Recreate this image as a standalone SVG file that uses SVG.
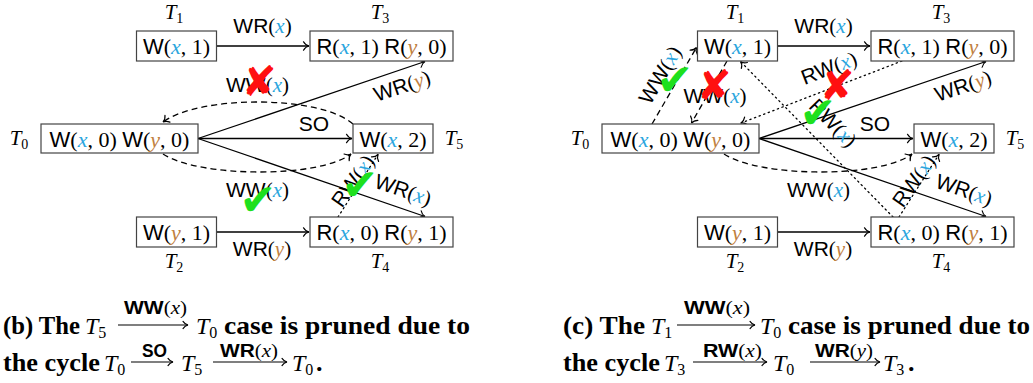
<svg xmlns="http://www.w3.org/2000/svg" width="1033" height="383" viewBox="0 0 1033 383">
<defs>
<style>
text{font-family:"Liberation Serif",serif;fill:#000}
.sf{font-family:"Liberation Sans",sans-serif}
.mi{font-family:"Liberation Serif",serif;font-style:italic}
.vx{fill:#2ba6de}
.vy{fill:#bf8040}
.nt{font-size:22px;text-anchor:middle}
.el{font-size:21px;text-anchor:middle}
.tl{font-size:21px;text-anchor:middle}
.sub{font-size:14px;font-style:normal}
.box{fill:#fff;stroke:#444;stroke-width:1.2}
.e{fill:none;stroke:#000;stroke-width:1.3;marker-end:url(#ah)}
.d{stroke-dasharray:6,4}
.o{stroke-dasharray:1.3,3.6;stroke-linecap:round}
.ok{font-family:"DejaVu Sans",sans-serif;font-size:44px;fill:#1ee01e;text-anchor:middle}
.no{font-family:"DejaVu Sans",sans-serif;font-size:42px;fill:#ff1010;text-anchor:middle}
.cap{font-size:26px;font-weight:bold}
.cm{font-size:24px;font-style:italic}
.csub{font-size:16px;font-style:normal}
.al{font-size:18px}
.ca{fill:none;stroke:#000;stroke-width:1.1;marker-end:url(#sh)}
</style>
<marker id="ah" viewBox="-8 -6 10 12" refX="0" refY="0" markerWidth="10" markerHeight="12" markerUnits="userSpaceOnUse" orient="auto" overflow="visible">
<path d="M-5.5,-4.2 C-4,-1.6 -1.6,-0.3 0,0 C-1.6,0.3 -4,1.6 -5.5,4.2" fill="none" stroke="#000" stroke-width="1.2" stroke-dasharray="none" stroke-linecap="round"/>
</marker>
<marker id="sh" viewBox="-8 -6 10 12" refX="0" refY="0" markerWidth="10" markerHeight="12" markerUnits="userSpaceOnUse" orient="auto" overflow="visible">
<path d="M-5,-3.6 C-3.5,-1.3 -1.4,-0.3 0,0 C-1.4,0.3 -3.5,1.3 -5,3.6" fill="none" stroke="#000" stroke-width="1.1" stroke-linecap="round"/>
</marker>
</defs>

<!-- ===== Diagram (b) ===== -->
<g id="diagram-b">
<g id="b-connectors">
<line class="e" x1="216.5" y1="46" x2="309" y2="46"/>
<line class="e" x1="216.5" y1="232" x2="309" y2="232"/>
<line class="e" x1="198" y1="138.5" x2="425" y2="61.5"/>
<line class="e" x1="198" y1="138.5" x2="352" y2="138.5"/>
<line class="e" x1="198" y1="138.5" x2="425" y2="216.5"/>
<path class="e d" d="M353,124 C320,95 200,95 163,122"/>
<path class="e d" d="M163,154 C200,178 320,178 351,154"/>
<path class="e o" d="M338,217 L378,154.5"/>
<text class="el" x="262.5" y="33"><tspan class="sf">WR</tspan>(<tspan class="mi vx">x</tspan>)</text>
<text class="el" x="262" y="256"><tspan class="sf">WR</tspan>(<tspan class="mi vy">y</tspan>)</text>
<text class="el" x="314" y="131"><tspan class="sf">SO</tspan></text>
<text class="el" x="257.5" y="92"><tspan class="sf">WW</tspan>(<tspan class="mi vx">x</tspan>)</text>
<text class="el" x="257.5" y="197"><tspan class="sf">WW</tspan>(<tspan class="mi vx">x</tspan>)</text>
<text class="el" transform="translate(402,86) rotate(-18.8)" x="0" y="7"><tspan class="sf">WR</tspan>(<tspan class="mi vy">y</tspan>)</text>
<text class="el" transform="translate(403,190) rotate(19)" x="0" y="7"><tspan class="sf">WR</tspan>(<tspan class="mi vx">x</tspan>)</text>
<text class="el" transform="translate(353,181) rotate(-55)" x="0" y="7"><tspan class="sf">RW</tspan>(<tspan class="mi vx">x</tspan>)</text>
<text class="no" x="259" y="96">✘</text>
<text class="ok" x="258" y="215">✔</text>
<text class="ok" x="360" y="200">✔</text>
</g>
<g id="b-T1"><rect class="box" x="136.5" y="31" width="80" height="30"/><text class="nt" x="176.5" y="54"><tspan class="sf">W</tspan>(<tspan class="mi vx">x</tspan>, 1)</text><text class="tl mi" x="174" y="19">T<tspan class="sub" dy="4">1</tspan></text></g>
<g id="b-T3"><rect class="box" x="310" y="31" width="143" height="30"/><text class="nt" x="381.5" y="54"><tspan class="sf">R</tspan>(<tspan class="mi vx">x</tspan>, 1) <tspan class="sf">R</tspan>(<tspan class="mi vy">y</tspan>, 0)</text><text class="tl mi" x="380" y="19">T<tspan class="sub" dy="4">3</tspan></text></g>
<g id="b-T0"><rect class="box" x="41" y="124" width="157" height="29"/><text class="nt" x="119.5" y="147"><tspan class="sf">W</tspan>(<tspan class="mi vx">x</tspan>, 0) <tspan class="sf">W</tspan>(<tspan class="mi vy">y</tspan>, 0)</text><text class="tl mi" x="19" y="145">T<tspan class="sub" dy="4">0</tspan></text></g>
<g id="b-T5"><rect class="box" x="353" y="124" width="80" height="29"/><text class="nt" x="393" y="147"><tspan class="sf">W</tspan>(<tspan class="mi vx">x</tspan>, 2)</text><text class="tl mi" x="454" y="145">T<tspan class="sub" dy="4">5</tspan></text></g>
<g id="b-T2"><rect class="box" x="136.5" y="217" width="80" height="30"/><text class="nt" x="176.5" y="240"><tspan class="sf">W</tspan>(<tspan class="mi vy">y</tspan>, 1)</text><text class="tl mi" x="174" y="268">T<tspan class="sub" dy="4">2</tspan></text></g>
<g id="b-T4"><rect class="box" x="310" y="217" width="143" height="30"/><text class="nt" x="381.5" y="240"><tspan class="sf">R</tspan>(<tspan class="mi vx">x</tspan>, 0) <tspan class="sf">R</tspan>(<tspan class="mi vy">y</tspan>, 1)</text><text class="tl mi" x="380" y="268">T<tspan class="sub" dy="4">4</tspan></text></g>
</g>

<!-- ===== Diagram (c) ===== -->
<g id="diagram-c" transform="translate(561,0)">
<g id="c-connectors">
<line class="e" x1="216.5" y1="46" x2="309" y2="46"/>
<line class="e" x1="216.5" y1="232" x2="309" y2="232"/>
<line class="e" x1="198" y1="138.5" x2="425" y2="61.5"/>
<line class="e" x1="198" y1="138.5" x2="352" y2="138.5"/>
<line class="e" x1="198" y1="138.5" x2="425" y2="216.5"/>
<path class="e d" d="M163,154 C200,178 320,178 351,154"/>
<path class="e o" d="M338,217 L378,154.5"/>
<path class="e d" d="M91,124 L135.5,47.5"/>
<path class="e d" d="M166,61 L130.5,123"/>
<path class="e o" d="M341,61 L180,123"/>
<path class="e o" d="M332,217 L179.5,61.5"/>
<text class="el" x="262.5" y="33"><tspan class="sf">WR</tspan>(<tspan class="mi vx">x</tspan>)</text>
<text class="el" x="262" y="256"><tspan class="sf">WR</tspan>(<tspan class="mi vy">y</tspan>)</text>
<text class="el" x="314" y="131"><tspan class="sf">SO</tspan></text>
<text class="el" x="257.5" y="197"><tspan class="sf">WW</tspan>(<tspan class="mi vx">x</tspan>)</text>
<text class="el" x="154" y="103"><tspan class="sf">WW</tspan>(<tspan class="mi vx">x</tspan>)</text>
<text class="el" transform="translate(402,86) rotate(-18.8)" x="0" y="7"><tspan class="sf">WR</tspan>(<tspan class="mi vy">y</tspan>)</text>
<text class="el" transform="translate(403,190) rotate(19)" x="0" y="7"><tspan class="sf">WR</tspan>(<tspan class="mi vx">x</tspan>)</text>
<text class="el" transform="translate(353,181) rotate(-55)" x="0" y="7"><tspan class="sf">RW</tspan>(<tspan class="mi vx">x</tspan>)</text>
<text class="el" transform="translate(99,75) rotate(-59.7)" x="0" y="7"><tspan class="sf">WW</tspan>(<tspan class="mi vx">x</tspan>)</text>
<text class="el" transform="translate(268,68) rotate(-21)" x="0" y="7"><tspan class="sf">RW</tspan>(<tspan class="mi vx">x</tspan>)</text>
<text class="el" transform="translate(272,123) rotate(45.6)" x="0" y="7"><tspan class="sf">RW</tspan>(<tspan class="mi vx">x</tspan>)</text>
<text class="ok" x="114" y="95">✔</text>
<text class="no" x="153" y="100">✘</text>
<text class="no" x="276" y="100">✘</text>
<text class="ok" x="257" y="128">✔</text>
</g>
<g id="c-T1"><rect class="box" x="136.5" y="31" width="80" height="30"/><text class="nt" x="176.5" y="54"><tspan class="sf">W</tspan>(<tspan class="mi vx">x</tspan>, 1)</text><text class="tl mi" x="174" y="19">T<tspan class="sub" dy="4">1</tspan></text></g>
<g id="c-T3"><rect class="box" x="310" y="31" width="143" height="30"/><text class="nt" x="381.5" y="54"><tspan class="sf">R</tspan>(<tspan class="mi vx">x</tspan>, 1) <tspan class="sf">R</tspan>(<tspan class="mi vy">y</tspan>, 0)</text><text class="tl mi" x="380" y="19">T<tspan class="sub" dy="4">3</tspan></text></g>
<g id="c-T0"><rect class="box" x="41" y="124" width="157" height="29"/><text class="nt" x="119.5" y="147"><tspan class="sf">W</tspan>(<tspan class="mi vx">x</tspan>, 0) <tspan class="sf">W</tspan>(<tspan class="mi vy">y</tspan>, 0)</text><text class="tl mi" x="19" y="145">T<tspan class="sub" dy="4">0</tspan></text></g>
<g id="c-T5"><rect class="box" x="353" y="124" width="80" height="29"/><text class="nt" x="393" y="147"><tspan class="sf">W</tspan>(<tspan class="mi vx">x</tspan>, 2)</text><text class="tl mi" x="454" y="145">T<tspan class="sub" dy="4">5</tspan></text></g>
<g id="c-T2"><rect class="box" x="136.5" y="217" width="80" height="30"/><text class="nt" x="176.5" y="240"><tspan class="sf">W</tspan>(<tspan class="mi vy">y</tspan>, 1)</text><text class="tl mi" x="174" y="268">T<tspan class="sub" dy="4">2</tspan></text></g>
<g id="c-T4"><rect class="box" x="310" y="217" width="143" height="30"/><text class="nt" x="381.5" y="240"><tspan class="sf">R</tspan>(<tspan class="mi vx">x</tspan>, 0) <tspan class="sf">R</tspan>(<tspan class="mi vy">y</tspan>, 1)</text><text class="tl mi" x="380" y="268">T<tspan class="sub" dy="4">4</tspan></text></g>
</g>

<!-- ===== Captions ===== -->
<g id="caption-b">
<text class="cap" x="3" y="334" textLength="77" lengthAdjust="spacingAndGlyphs">(b) The</text>
<text class="cm" x="85" y="334">T<tspan class="csub" dy="4">5</tspan></text>
<line class="ca" x1="118" y1="325" x2="188" y2="325"/>
<text class="al" x="124" y="314" textLength="63" lengthAdjust="spacingAndGlyphs"><tspan class="sf" font-weight="bold">WW</tspan>(<tspan class="mi">x</tspan>)</text>
<text class="cm" x="196" y="334">T<tspan class="csub" dy="4">0</tspan></text>
<text class="cap" x="224" y="334" textLength="246" lengthAdjust="spacingAndGlyphs">case is pruned due to</text>
<text class="cap" x="3" y="371" textLength="97" lengthAdjust="spacingAndGlyphs">the cycle</text>
<text class="cm" x="104" y="371">T<tspan class="csub" dy="4">0</tspan></text>
<line class="ca" x1="131" y1="362" x2="173" y2="362"/>
<text class="al" x="142" y="357" textLength="25" lengthAdjust="spacingAndGlyphs"><tspan class="sf" font-weight="bold">SO</tspan></text>
<text class="cm" x="181" y="371">T<tspan class="csub" dy="4">5</tspan></text>
<line class="ca" x1="213" y1="362" x2="287" y2="362"/>
<text class="al" x="220" y="357" textLength="58" lengthAdjust="spacingAndGlyphs"><tspan class="sf" font-weight="bold">WR</tspan>(<tspan class="mi">x</tspan>)</text>
<text class="cm" x="292" y="371">T<tspan class="csub" dy="4">0</tspan></text>
<text class="cap" x="316" y="371">.</text>
</g>
<g id="caption-c">
<text class="cap" x="563" y="334" textLength="82" lengthAdjust="spacingAndGlyphs">(c) The</text>
<text class="cm" x="651" y="334">T<tspan class="csub" dy="4">1</tspan></text>
<line class="ca" x1="677" y1="325" x2="755" y2="325"/>
<text class="al" x="684" y="314" textLength="66" lengthAdjust="spacingAndGlyphs"><tspan class="sf" font-weight="bold">WW</tspan>(<tspan class="mi">x</tspan>)</text>
<text class="cm" x="760" y="334">T<tspan class="csub" dy="4">0</tspan></text>
<text class="cap" x="788" y="334" textLength="242" lengthAdjust="spacingAndGlyphs">case is pruned due to</text>
<text class="cap" x="563" y="371" textLength="97" lengthAdjust="spacingAndGlyphs">the cycle</text>
<text class="cm" x="664" y="371">T<tspan class="csub" dy="4">3</tspan></text>
<line class="ca" x1="693" y1="362" x2="767" y2="362"/>
<text class="al" x="703" y="357" textLength="59" lengthAdjust="spacingAndGlyphs"><tspan class="sf" font-weight="bold">RW</tspan>(<tspan class="mi">x</tspan>)</text>
<text class="cm" x="773" y="371">T<tspan class="csub" dy="4">0</tspan></text>
<line class="ca" x1="810" y1="362" x2="880" y2="362"/>
<text class="al" x="815" y="357" textLength="58" lengthAdjust="spacingAndGlyphs"><tspan class="sf" font-weight="bold">WR</tspan>(<tspan class="mi">y</tspan>)</text>
<text class="cm" x="883" y="371">T<tspan class="csub" dy="4">3</tspan></text>
<text class="cap" x="908" y="371">.</text>
</g>
</svg>
